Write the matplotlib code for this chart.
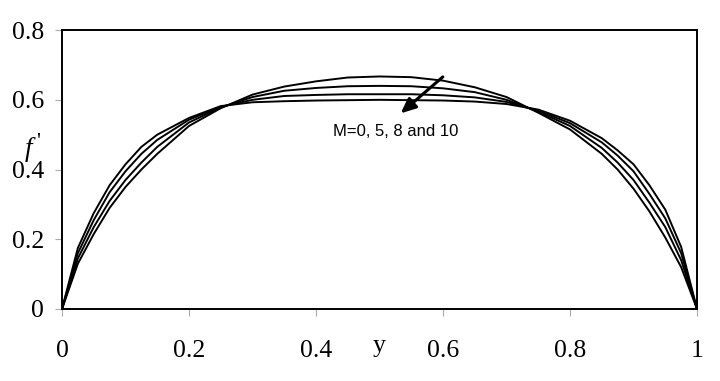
import matplotlib
matplotlib.use("Agg")
import matplotlib.pyplot as plt

# velocity profiles f' across the channel for M = 0, 5, 8, 10
y = [0.0, 0.025, 0.05, 0.075, 0.1, 0.125, 0.15, 0.2, 0.25, 0.3, 0.35, 0.4, 0.45, 0.5,
     0.55, 0.6, 0.65, 0.7, 0.75, 0.8, 0.85, 0.875, 0.9, 0.925, 0.95, 0.975, 1.0]
f_m0 = [0.0, 0.13, 0.215, 0.29, 0.35, 0.40, 0.445, 0.525, 0.576, 0.615, 0.638, 0.653, 0.664, 0.667,
        0.665, 0.655, 0.636, 0.608, 0.563, 0.515, 0.445, 0.40, 0.345, 0.28, 0.205, 0.12, 0.0]
f_m5 = [0.0, 0.145, 0.235, 0.31, 0.37, 0.42, 0.465, 0.535, 0.578, 0.608, 0.626, 0.634, 0.639, 0.640,
        0.639, 0.633, 0.622, 0.600, 0.566, 0.525, 0.462, 0.42, 0.37, 0.305, 0.235, 0.14, 0.0]
f_m8 = [0.0, 0.16, 0.255, 0.335, 0.395, 0.445, 0.485, 0.543, 0.580, 0.600, 0.611, 0.614, 0.616, 0.616,
        0.616, 0.613, 0.607, 0.594, 0.569, 0.533, 0.478, 0.44, 0.395, 0.33, 0.26, 0.16, 0.0]
f_m10 = [0.0, 0.175, 0.275, 0.355, 0.415, 0.465, 0.50, 0.548, 0.582, 0.593, 0.596, 0.598, 0.599, 0.600,
         0.599, 0.598, 0.595, 0.588, 0.572, 0.540, 0.490, 0.455, 0.415, 0.355, 0.285, 0.178, 0.0]

xticks = [0, 0.2, 0.4, 0.6, 0.8, 1]
xticklabels = ["0", "0.2", "0.4", "0.6", "0.8", "1"]
yticks = [0, 0.2, 0.4, 0.6, 0.8]
yticklabels = ["0", "0.2", "0.4", "0.6", "0.8"]

serif = ["Liberation Serif", "DejaVu Serif"]
fs = 18.5

fig = plt.figure(figsize=(7.2, 3.81), dpi=100)
ax = fig.add_axes([0.0861, 0.189, 0.882, 0.732])

for f in (f_m0, f_m5, f_m8, f_m10):
    ax.plot(y, f, color="black", lw=1.4)

ax.set_xlim(0, 1)
ax.set_ylim(0, 0.8)
ax.set_xticks(xticks)
ax.set_xticklabels(xticklabels, family=serif, fontsize=fs)
ax.set_yticks(yticks)
ax.set_yticklabels(yticklabels, family=serif, fontsize=fs)
ax.tick_params(axis="x", length=5, color="#aaaaaa", pad=17)
ax.tick_params(axis="y", length=5, color="#aaaaaa", pad=8)
for sp in ax.spines.values():
    sp.set_linewidth(1.4)
    sp.set_color("black")

ax.text(0.5, -0.133, "y", transform=ax.transAxes, ha="center", va="center",
        family=serif, fontsize=fs)
# y-axis label f' (italic f with a prime placed just right of it)
fig.text(28 / 720, 1 - 150 / 381, "f", ha="center", va="center",
         family=serif, style="italic", fontsize=19.5)
fig.text(38 / 720, 1 - 143 / 381, "'", ha="center", va="center",
         family=serif, fontsize=16)

ax.annotate("", xy=(0.530, 0.556), xytext=(0.603, 0.671),
            arrowprops=dict(arrowstyle="-|>,head_length=0.9,head_width=0.4",
                            color="black", lw=2.2))
ax.text(0.427, 0.51, "M=0, 5, 8 and 10", ha="left", va="center",
        family=["Liberation Sans", "DejaVu Sans"], fontsize=12)

fig.savefig("out.png", dpi=100)
